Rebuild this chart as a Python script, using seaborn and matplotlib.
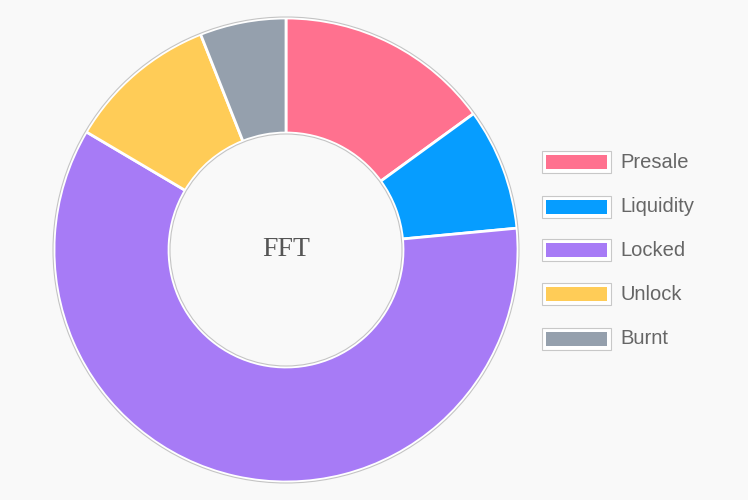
import matplotlib
matplotlib.use("Agg")
import matplotlib.pyplot as plt
import seaborn as sns
from matplotlib.patches import Circle, Rectangle

sns.set_theme(style="white")

labels = ["Presale", "Liquidity", "Locked", "Unlock", "Burnt"]
values = [15, 8.5, 60, 10.5, 6]
colors = ["#ff718f", "#069dff", "#a77bf6", "#ffcc57", "#95a0ad"]
center_label = "FFT"

bg = "#f9f9f9"
fig = plt.figure(figsize=(7.48, 5.0), dpi=100, facecolor=bg)
# square axes in pixel units, centred on the donut
ax = fig.add_axes([(286 - 240) / 748, 10 / 500, 480 / 748, 480 / 500])
ax.set_facecolor(bg)

R, r = 232, 117
ax.pie(values, colors=colors, startangle=90, counterclock=False, radius=R,
       wedgeprops=dict(width=R - r, edgecolor="white", linewidth=2))
ax.add_patch(Circle((0, 0), R + 1, fill=False, edgecolor="#c4c4c4", lw=0.8))
ax.add_patch(Circle((0, 0), r - 1, fill=False, edgecolor="#c4c4c4", lw=0.8))
ax.set_xlim(-240, 240)
ax.set_ylim(-240, 240)
ax.set_aspect("equal")
ax.axis("off")
ax.text(0, 0, center_label, ha="center", va="center", fontsize=20,
        family="Liberation Serif", color="#555555")

# legend drawn by hand: gray frame, white gap, colour fill
y_pix = [162, 207, 250, 294, 339]
for lab, col, yp in zip(labels, colors, y_pix):
    yb = 1 - (yp + 11) / 500
    fig.add_artist(Rectangle((542 / 748, yb), 69 / 748, 22 / 500,
                             transform=fig.transFigure, facecolor="white",
                             edgecolor="#c8c8c8", lw=0.8))
    fig.add_artist(Rectangle((546 / 748, yb + 4 / 500), 61 / 748, 14 / 500,
                             transform=fig.transFigure, facecolor=col,
                             edgecolor="none"))
    fig.text(620 / 748, 1 - yp / 500, lab, ha="left", va="center",
             fontsize=14.5, family="Liberation Sans", color="#666666")

fig.savefig("out.png", dpi=100, facecolor=bg)
